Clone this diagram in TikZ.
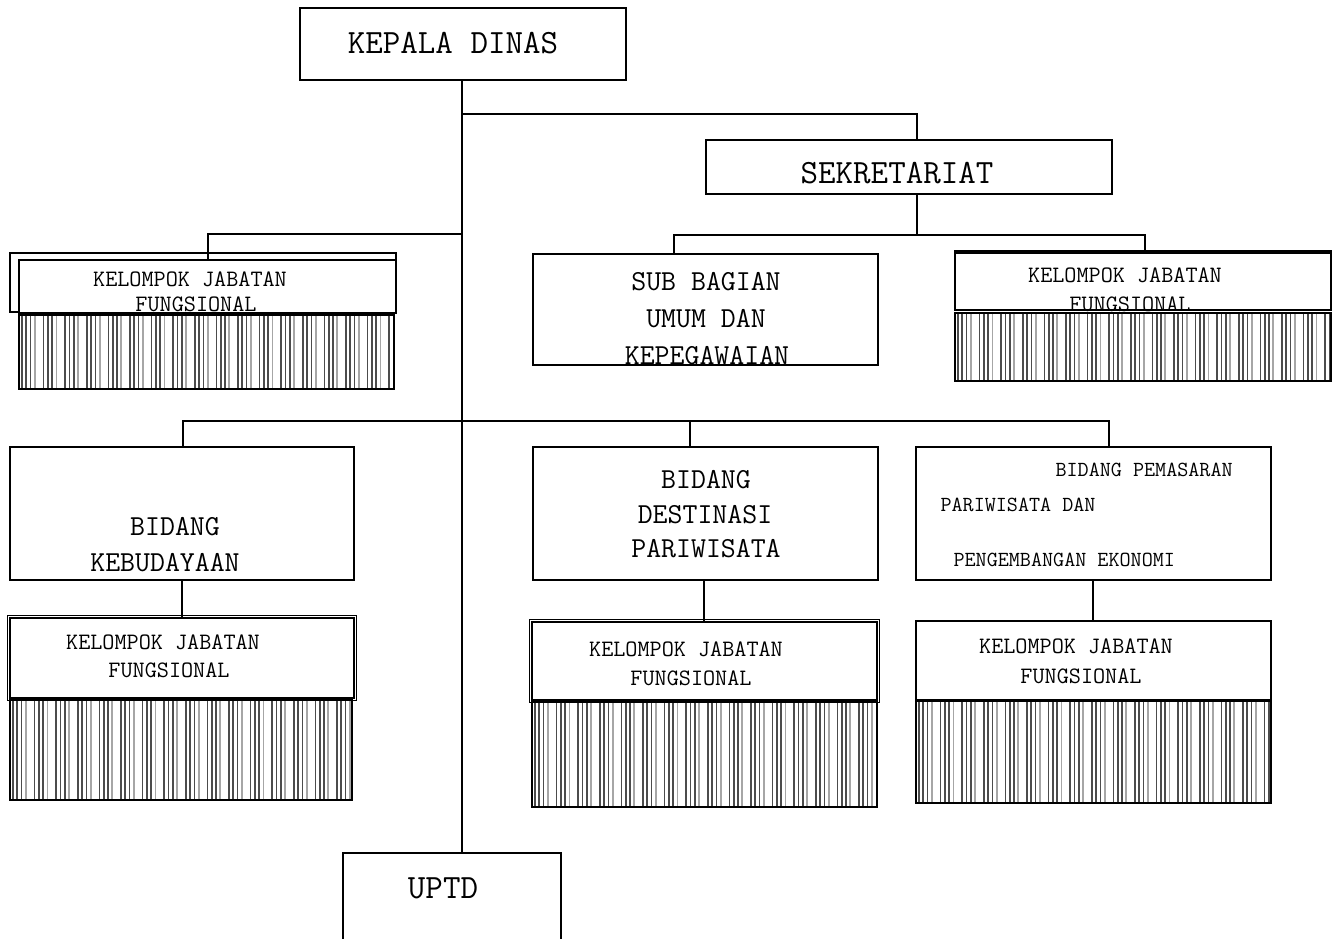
\documentclass[tikz,border=0pt]{standalone}
\usepackage{tikz}
\usetikzlibrary{positioning}

%% barcode-like fill under each "kelompok" box: x1,y1,x2,y2
\newcommand{\barfill}[4]{%
  \begin{scope}
    \clip (#1,#2) rectangle (#3,#4);
    \foreach \i in {0,...,17} {
      \foreach \d in {0,4.3,8.6}
        \draw[bar] ({#1+3+21.6*\i+\d},#2) -- ({#1+3+21.6*\i+\d},#4);
      \draw[bar, draw=black!35] ({#1+3+21.6*\i+12.9},#2) -- ({#1+3+21.6*\i+12.9},#4);
    }
  \end{scope}
  \draw[line width=2pt] (#1,#2) rectangle (#3,#4);
}

\begin{document}
\begin{tikzpicture}[
  x=1pt, y=-1pt,
  box/.style={draw, line width=2pt, inner sep=0pt, fill=white},
  link/.style={line width=2pt},
  bar/.style={line width=1.7pt, draw=black!70},
  huge/.style={font=\fontsize{34}{36}\selectfont\ttfamily},
  big/.style={font=\fontsize{29}{31}\selectfont\ttfamily},
  mid/.style={font=\fontsize{23.5}{25}\selectfont\ttfamily},
  small/.style={font=\fontsize{21.5}{23}\selectfont\ttfamily}
]
\useasboundingbox[fill=white] (0,0) rectangle (1334,939);

%% ---- top --------------------------------------------------------------
\node[box, minimum width=326, minimum height=72] (kepala) at (463,44) {};
\node[huge, anchor=base] (tkepala) at (453,54) {KEPALA DINAS};

\node[box, minimum width=406, minimum height=54] (sekr) at (909,167) {};
\node[huge, anchor=base] (tsekr) at (897,184) {SEKRETARIAT};

%% ---- sekretariat row ---------------------------------------------------
\node[box, minimum width=345, minimum height=111] (subbag) at (705.5,309.5) {};
\node[big, anchor=base] (tsub1) at (706,290) {SUB BAGIAN};
\node[big, anchor=base] (tsub2) at (706,327) {UMUM DAN};
\node[big, anchor=base] (tsub3) at (707,364) {KEPEGAWAIAN};

\node[box, minimum width=376, minimum height=59] (kjfsek) at (1143,280.5) {};
\draw[line width=2pt] (955,252.5) -- (1331,252.5);
\barfill{955}{313}{1331}{381}
\node[mid, anchor=base] (tkjfsek1) at (1125,282) {KELOMPOK JABATAN};
\node[mid, anchor=base] (tkjfsek2) at (1130,311) {FUNGSIONAL};

%% ---- left kelompok -----------------------------------------------------
\draw[line width=2pt] (10,253) rectangle (396,312);
\node[box, minimum width=377, minimum height=53] (kjfkd) at (207.5,286.5) {};
\barfill{19}{315}{394}{389}
\node[mid, anchor=base] (tkjfkd1) at (190,286) {KELOMPOK JABATAN};
\node[mid, anchor=base] (tkjfkd2) at (196,311) {FUNGSIONAL};

%% ---- bidang row --------------------------------------------------------
\node[box, minimum width=344, minimum height=133] (kebud) at (182,513.5) {};
\node[big, anchor=base] (tkeb1) at (175,535) {BIDANG};
\node[big, anchor=base] (tkeb2) at (165,571) {KEBUDAYAAN};

\node[box, minimum width=345, minimum height=133] (dest) at (705.5,513.5) {};
\node[big, anchor=base] (tdest1) at (706,488) {BIDANG};
\node[big, anchor=base] (tdest2) at (705,523) {DESTINASI};
\node[big, anchor=base] (tdest3) at (706,557) {PARIWISATA};

\node[box, minimum width=355, minimum height=133] (pem) at (1093.5,513.5) {};
\node[small, anchor=base west] (tpem1) at (1052,476) {BIDANG PEMASARAN};
\node[small, anchor=base west] (tpem2) at (937,511) {PARIWISATA DAN};
\node[small, anchor=base west] (tpem3) at (950,566) {PENGEMBANGAN EKONOMI};

%% ---- kelompok under each bidang ----------------------------------------
\draw[line width=1pt] (7.5,615.5) rectangle (356.5,700.5);
\node[box, minimum width=344, minimum height=80] (kjfkeb) at (182,658) {};
\barfill{10}{700}{352}{800}
\node[mid, anchor=base] (tkjfkeb1) at (163,649) {KELOMPOK JABATAN};
\node[mid, anchor=base] (tkjfkeb2) at (169,677) {FUNGSIONAL};

\draw[line width=1pt] (529.5,619.5) rectangle (879.5,702.5);
\node[box, minimum width=345, minimum height=78] (kjfdes) at (704.5,661) {};
\barfill{532}{702}{877}{807}
\node[mid, anchor=base] (tkjfdes1) at (686,656) {KELOMPOK JABATAN};
\node[mid, anchor=base] (tkjfdes2) at (691,685) {FUNGSIONAL};

\node[box, minimum width=355, minimum height=79] (kjfpem) at (1093.5,660.5) {};
\barfill{916}{701}{1271}{803}
\node[mid, anchor=base] (tkjfpem1) at (1076,653) {KELOMPOK JABATAN};
\node[mid, anchor=base] (tkjfpem2) at (1081,683) {FUNGSIONAL};

%% ---- uptd (runs off the page) ------------------------------------------
\node[box, minimum width=218, minimum height=122] (uptd) at (452,914) {};
\node[huge, anchor=base] (tuptd) at (443,898) {UPTD};

%% ---- connectors --------------------------------------------------------
\coordinate (jsek) at (462,114);
\coordinate (jkd) at (462,234);
\coordinate (jrow) at (462,421);
\coordinate (rowsek) at (917,235);

\draw[link] ([xshift=-1]kepala.south) -- ([xshift=-1]kepala.south |- uptd.north);
\draw[link] (jsek) -| ([xshift=8]sekr.north);
\draw[link] ([xshift=8]sekr.south) -- (rowsek);
\draw[link] (rowsek) -| ([xshift=-32]subbag.north);
\draw[link] (rowsek) -| ([xshift=2]kjfsek.north);
\draw[link] (jkd) -| (kjfkd.north);
\draw[link] (jrow) -| ([xshift=1]kebud.north);
\draw[link] (jrow) -| ([xshift=-16]dest.north);
\draw[link] (jrow) -| ([xshift=15]pem.north);
\draw[link] (kebud.south) -- (kjfkeb.north);
\draw[link] ([xshift=-2]dest.south) -- ([xshift=-2]dest.south |- kjfdes.north);
\draw[link] ([xshift=-1]pem.south) -- ([xshift=-1]pem.south |- kjfpem.north);

\end{tikzpicture}
\end{document}
